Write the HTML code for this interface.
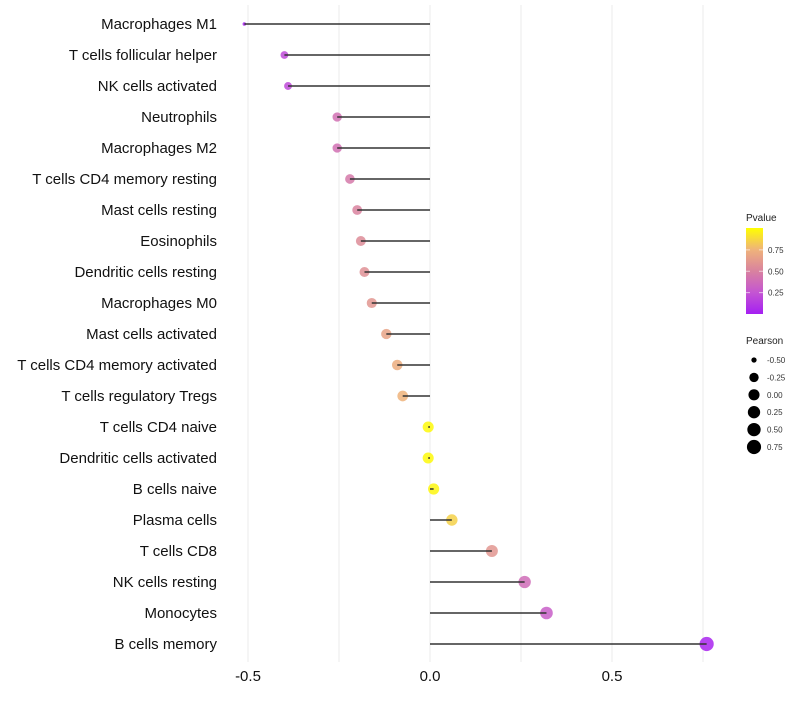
<!DOCTYPE html>
<html><head><meta charset="utf-8"><style>
body{margin:0;background:#fff;font-family:"Liberation Sans",sans-serif}
</style></head><body>
<svg id="c" width="800" height="700" xmlns="http://www.w3.org/2000/svg">
<defs><linearGradient id="pg" x1="0" y1="1" x2="0" y2="0">
<stop offset="0" stop-color="#a51ff2"/><stop offset="0.25" stop-color="#c455d2"/><stop offset="0.5" stop-color="#d9829f"/><stop offset="0.75" stop-color="#efb37a"/><stop offset="1" stop-color="#ffff00"/></linearGradient></defs>
</svg>
<script>
const categories=["Macrophages M1","T cells follicular helper","NK cells activated","Neutrophils","Macrophages M2","T cells CD4 memory resting","Mast cells resting","Eosinophils","Dendritic cells resting","Macrophages M0","Mast cells activated","T cells CD4 memory activated","T cells regulatory  Tregs","T cells CD4 naive","Dendritic cells activated","B cells naive","Plasma cells","T cells CD8","NK cells resting","Monocytes","B cells memory"];
const pearson=[-0.51,-0.40,-0.39,-0.255,-0.255,-0.22,-0.20,-0.19,-0.18,-0.16,-0.12,-0.09,-0.075,-0.005,-0.005,0.01,0.06,0.17,0.26,0.32,0.76];
const pvalue=[0.02,0.2,0.2,0.4,0.4,0.45,0.5,0.55,0.57,0.6,0.67,0.72,0.75,0.98,0.98,0.97,0.85,0.6,0.38,0.3,0.03];
const xTicks=[-0.5,0,0.5];
const xTickLabels=["-0.5","0.0","0.5"];
const xMinor=[-0.25,0.25,0.75];
const sizeLegend=[-0.5,-0.25,0,0.25,0.5,0.75];
const pTicks=[0.25,0.5,0.75];
const svg=document.getElementById('c');const NS="http://www.w3.org/2000/svg";
function mk(t,a,p){const e=document.createElementNS(NS,t);for(const k in a)e.setAttribute(k,a[k]);(p||svg).appendChild(e);return e;}
const xs=v=>430+v*364;
const ys=i=>24+i*31;
const rs=v=>1.8+5.3*Math.pow(Math.max(0,(v+0.51)/1.27),0.38);
const stops=[[0,[165,31,242]],[0.25,[196,85,210]],[0.5,[217,130,159]],[0.75,[239,179,122]],[1,[255,255,0]]];
function col(p){for(let i=1;i<stops.length;i++){if(p<=stops[i][0]){const a=stops[i-1],b=stops[i],t=(p-a[0])/(b[0]-a[0]);return 'rgb('+a[1].map((c,j)=>Math.round(c+(b[1][j]-c)*t)).join(',')+')';}}return 'rgb(255,255,0)';}
[...xTicks,...xMinor].forEach(v=>{const g=mk('line',{x1:xs(v),x2:xs(v),y1:5,y2:662,stroke:'#ebebeb','stroke-width':1});

});
xTicks.forEach((v,i)=>{const t=mk('text',{x:xs(v),y:681,'font-size':15,'text-anchor':'middle',fill:'#111'});t.textContent=xTickLabels[i];

});
categories.forEach((c,i)=>{
const t=mk('text',{x:217,y:ys(i)+5,'font-size':15,'text-anchor':'end',fill:'#111'});t.textContent=c;


const p=mk('circle',{cx:xs(pearson[i]),cy:ys(i),r:rs(pearson[i]),fill:col(pvalue[i]),'fill-opacity':0.85});


const l=mk('line',{x1:xs(0),x2:xs(pearson[i]),y1:ys(i),y2:ys(i),stroke:'#333','stroke-width':1.5});


});
let t=mk('text',{x:746,y:221,'font-size':10,fill:'#222'});t.textContent='Pvalue';


const bar=mk('rect',{x:746,y:228,width:17,height:86,fill:'url(#pg)'});


pTicks.forEach(v=>{const y=314-v*85.5;const tt=mk('text',{x:768,y:y+3,'font-size':8,fill:'#333'});tt.textContent=v.toFixed(2);


mk('line',{x1:746,x2:750,y1:y,y2:y,stroke:'#fff','stroke-opacity':0.6});mk('line',{x1:759,x2:763,y1:y,y2:y,stroke:'#fff','stroke-opacity':0.6});});
t=mk('text',{x:746,y:344,'font-size':10,fill:'#222'});t.textContent='Pearson';


sizeLegend.forEach((v,i)=>{const y=360+i*17.4;const c=mk('circle',{cx:754,cy:y,r:rs(v),fill:'#000'});


const tt=mk('text',{x:767,y:y+3,'font-size':8,fill:'#333'});tt.textContent=v.toFixed(2);

});
</script>
</body></html>
